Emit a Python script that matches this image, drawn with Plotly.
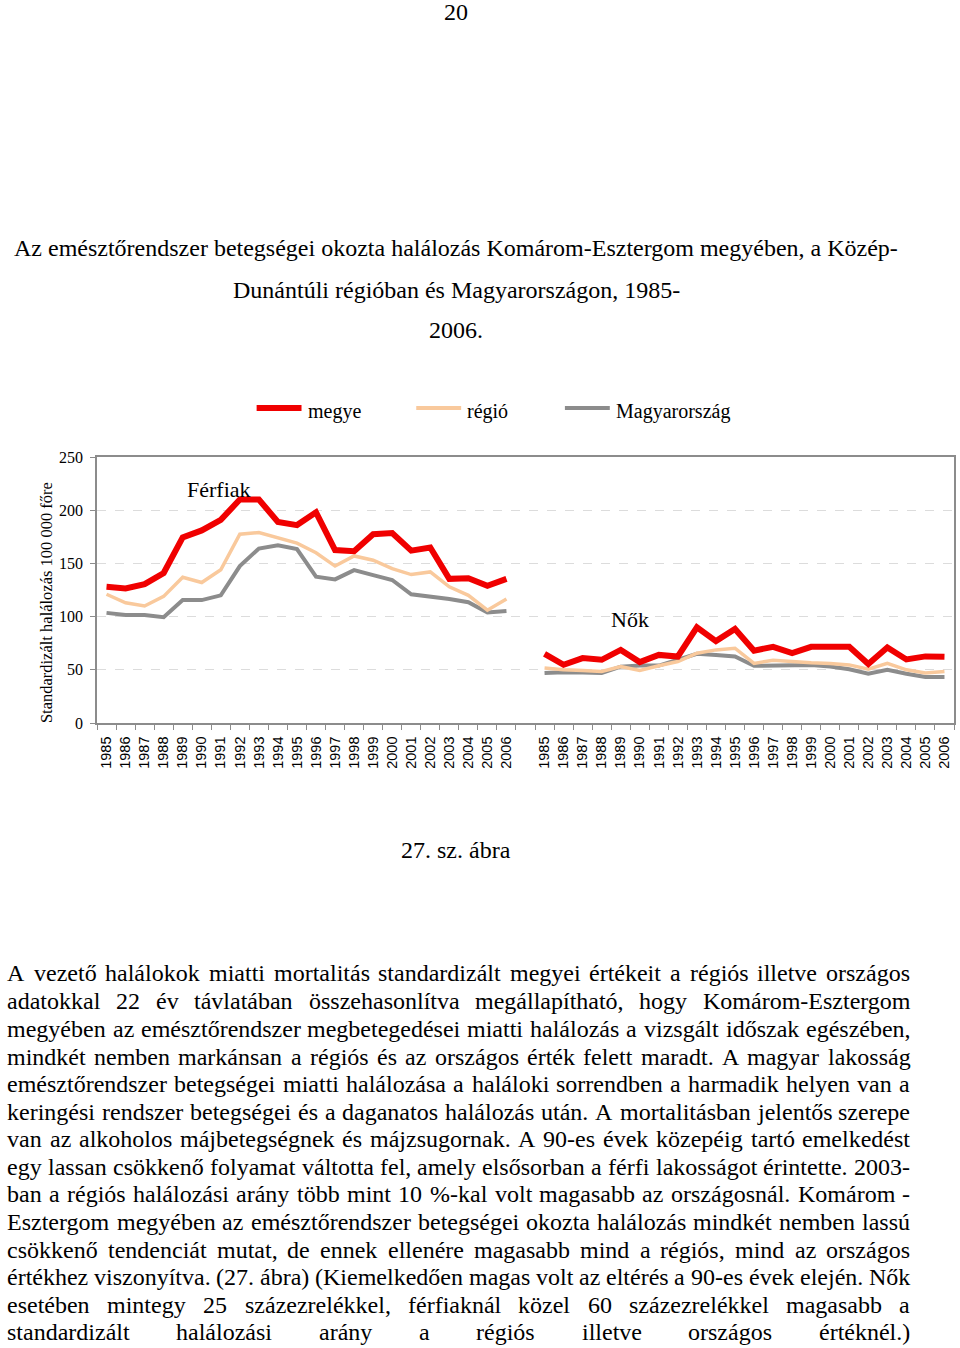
import plotly.graph_objects as go
import unicodedata

# ---------------- data ----------------
years = [str(y) for y in range(1985, 2007)]

men_megye = [128, 126.5, 130.5, 141, 174.5, 181, 191, 210, 210, 189, 186, 198,
             162.5, 161.5, 177.5, 178.5, 162, 165, 135.5, 136, 129, 135.5]
men_regio = [121, 113, 110, 119, 137, 132, 144, 177.5, 179, 174, 169, 160,
             147.5, 157, 153, 145, 139.5, 142, 128, 120, 106, 116.5]
men_orszag = [103.5, 101.6, 101.6, 99.4, 115.5, 115.5, 120, 147.5, 164, 167, 163.5, 137.5,
              135, 143.7, 139, 134.4, 121, 119, 116.5, 113.5, 103.8, 105.2]

women_megye = [65, 54.7, 61, 59.4, 68.7, 57.2, 64, 62.5, 90, 77, 88.4, 68,
               71.6, 65.6, 71.6, 72, 71.6, 55.5, 71, 59.7, 62.6, 62.2]
women_regio = [51.6, 50, 49.4, 48.5, 53, 49.4, 53.8, 57.8, 65.6, 68.7, 70.3, 56,
               59, 57.5, 56.6, 56, 54.6, 50.5, 56, 50, 47, 48.5]
women_orszag = [47, 47.8, 47.5, 47, 53, 54, 54, 59.4, 65, 64, 62.5, 53.7,
                54, 54.6, 54.6, 53, 50.5, 46.3, 50, 46.3, 43.2, 43.2]

series_names = ["megye", "régió", "Magyarország"]
group_labels = ["Férfiak", "Nők"]

title_lines = [
    "Az emésztőrendszer betegségei okozta halálozás Komárom-Esztergom megyében, a Közép-",
    "Dunántúli régióban és Magyarországon, 1985-",
    "2006.",
]
y_title = "Standardizált halálozás 100 000 főre"
caption = "27. sz. ábra"
page_number = "20"

paragraph = [
    "A vezető halálokok miatti mortalitás standardizált megyei értékeit a régiós illetve országos",
    "adatokkal 22 év távlatában összehasonlítva megállapítható, hogy Komárom-Esztergom",
    "megyében az emésztőrendszer megbetegedései miatti halálozás a vizsgált időszak egészében,",
    "mindkét nemben markánsan a régiós és az országos érték felett maradt. A magyar lakosság",
    "emésztőrendszer betegségei miatti halálozása a haláloki sorrendben a harmadik helyen van a",
    "keringési rendszer betegségei és a daganatos halálozás után. A mortalitásban jelentős szerepe",
    "van az alkoholos májbetegségnek és májzsugornak. A 90-es évek közepéig tartó emelkedést",
    "egy lassan csökkenő folyamat váltotta fel, amely elsősorban a férfi lakosságot érintette. 2003-",
    "ban a régiós halálozási arány több mint 10 %-kal volt magasabb az országosnál. Komárom -",
    "Esztergom megyében az emésztőrendszer betegségei okozta halálozás mindkét nemben lassú",
    "csökkenő tendenciát mutat, de ennek ellenére magasabb mind a régiós, mind az országos",
    "értékhez viszonyítva. (27. ábra) (Kiemelkedően magas volt az eltérés a 90-es évek elején. Nők",
    "esetében mintegy 25 százezrelékkel, férfiaknál közel 60 százezrelékkel magasabb a",
    "standardizált halálozási arány a régiós illetve országos értéknél.)",
]

# ---------------- styling / layout ----------------
W, H = 960, 1348
PL, PR, PT, PB = 97, 956, 457, 723  # plot area in page pixels

def px(x):
    return (x - PL) / (PR - PL)

def py(y):
    return (PB - y) / (PB - PT)

colors = ["#f00000", "#f9c99c", "#8c8c8c"]
widths = [6, 3.5, 4]
SERIF = "Liberation Serif, Times New Roman, serif"
SANS = "Liberation Sans, Arial, sans-serif"

# Times metrics (1/1000 em) used to justify paragraph lines
TW = {' ': 250, '!': 333, '(': 333, ')': 333, ',': 250, '-': 333, '.': 250, '%': 833, ':': 278,
      'A': 722, 'B': 667, 'C': 667, 'D': 722, 'E': 611, 'F': 556, 'G': 722, 'H': 722, 'I': 333,
      'J': 389, 'K': 722, 'L': 611, 'M': 889, 'N': 722, 'O': 722, 'P': 556, 'Q': 722, 'R': 667,
      'S': 556, 'T': 611, 'U': 722, 'V': 722, 'W': 944, 'X': 722, 'Y': 722, 'Z': 611,
      'a': 444, 'b': 500, 'c': 444, 'd': 500, 'e': 444, 'f': 333, 'g': 500, 'h': 500, 'i': 278,
      'j': 278, 'k': 500, 'l': 278, 'm': 778, 'n': 500, 'o': 500, 'p': 500, 'q': 500, 'r': 333,
      's': 389, 't': 278, 'u': 500, 'v': 500, 'w': 722, 'x': 500, 'y': 500, 'z': 444}

def text_width(s, size):
    tot = 0
    for ch in s:
        if ch.isdigit():
            tot += 500
            continue
        base = unicodedata.normalize("NFD", ch)[0]
        tot += TW.get(base, 500)
    return tot * size / 1000.0

n = len(years)
x_men = list(range(n))
x_women = [n + 1 + i for i in range(n)]
tickvals = x_men + x_women
ticktext = years + years

fig = go.Figure()
men = [men_megye, men_regio, men_orszag]
women = [women_megye, women_regio, women_orszag]
for k in [2, 1, 0]:  # red on top
    fig.add_trace(go.Scatter(x=x_men, y=men[k], mode="lines", name=series_names[k],
                             line=dict(color=colors[k], width=widths[k]), showlegend=False))
    fig.add_trace(go.Scatter(x=x_women, y=women[k], mode="lines", name=series_names[k],
                             line=dict(color=colors[k], width=widths[k]), showlegend=False))

axis_color = "#8c8c8c"
fig.update_xaxes(range=[-0.5, 2 * n + 0.5], tickmode="array", tickvals=tickvals, ticktext=ticktext,
                 tickangle=-90, ticks="", showgrid=False, zeroline=False,
                 showline=True, linecolor=axis_color, linewidth=1.5, mirror=True,
                 tickfont=dict(family=SANS, size=14.5, color="#000"),
                 ticklabelstandoff=6,
                 minor=dict(ticks="outside", ticklen=5, tickcolor=axis_color, tickwidth=1,
                            tickmode="linear", tick0=-0.5, dtick=1, showgrid=False),
                 fixedrange=True)
fig.update_yaxes(range=[0, 250], tickmode="linear", tick0=0, dtick=50, ticks="outside", ticklen=5,
                 tickcolor=axis_color, showgrid=True, gridcolor="#dcdcdc", griddash="dash",
                 gridwidth=1, zeroline=False, showline=True, linecolor=axis_color, linewidth=1.5,
                 mirror=True, tickfont=dict(family=SERIF, size=16, color="#000"),
                 ticklabelstandoff=4, fixedrange=True)

ann = []
def text(t, x, y, size, xanchor="center", family=SERIF, angle=0):
    ann.append(dict(text=t, x=px(x), y=py(y), xref="paper", yref="paper", showarrow=False,
                    xanchor=xanchor, yanchor="middle", textangle=angle,
                    font=dict(family=family, size=size, color="#000")))

text(page_number, 457, 12, 24)
for t, yy in zip(title_lines, [248, 290, 330]):
    text(t, 457, yy, 24)
text(group_labels[0], 219, 489, 22)
text(group_labels[1], 631, 619, 22)
text(y_title, 46, 603, 16.5, angle=-90)
text(caption, 457, 850, 24)

# legend (manual)
leg_x = [257, 417, 566]
for k in range(3):
    fig.add_shape(type="line", xref="paper", yref="paper", x0=px(leg_x[k]), x1=px(leg_x[k] + 45),
                  y0=py(408), y1=py(408), line=dict(color=colors[k], width=6 if k == 0 else 4))
    text(series_names[k], leg_x[k] + 49, 411, 20, xanchor="left")

# paragraph, justified between x=5 and x=910
PSIZE = 24
LEFT, RIGHT = 5, 910
line_y = [973, 1001, 1029, 1057, 1084, 1112, 1139, 1167, 1194, 1222, 1250, 1277, 1305, 1332]
for t, yy in zip(paragraph, line_y):
    words = t.split(" ")
    ws = [text_width(w, PSIZE) for w in words]
    gap = (RIGHT - LEFT - sum(ws)) / max(len(words) - 1, 1)
    gap = max(gap, 3)
    xx = LEFT
    for w, wd in zip(words, ws):
        text(w, xx, yy, PSIZE, xanchor="left")
        xx += wd + gap

fig.update_layout(width=W, height=H,
                  margin=dict(l=PL, r=W - PR, t=PT, b=H - PB, pad=0),
                  paper_bgcolor="white", plot_bgcolor="white", annotations=ann, showlegend=False)

fig.write_html("out.html", config={"displayModeBar": False},
               post_script="document.body.style.margin='0px';document.body.style.overflow='hidden';")
